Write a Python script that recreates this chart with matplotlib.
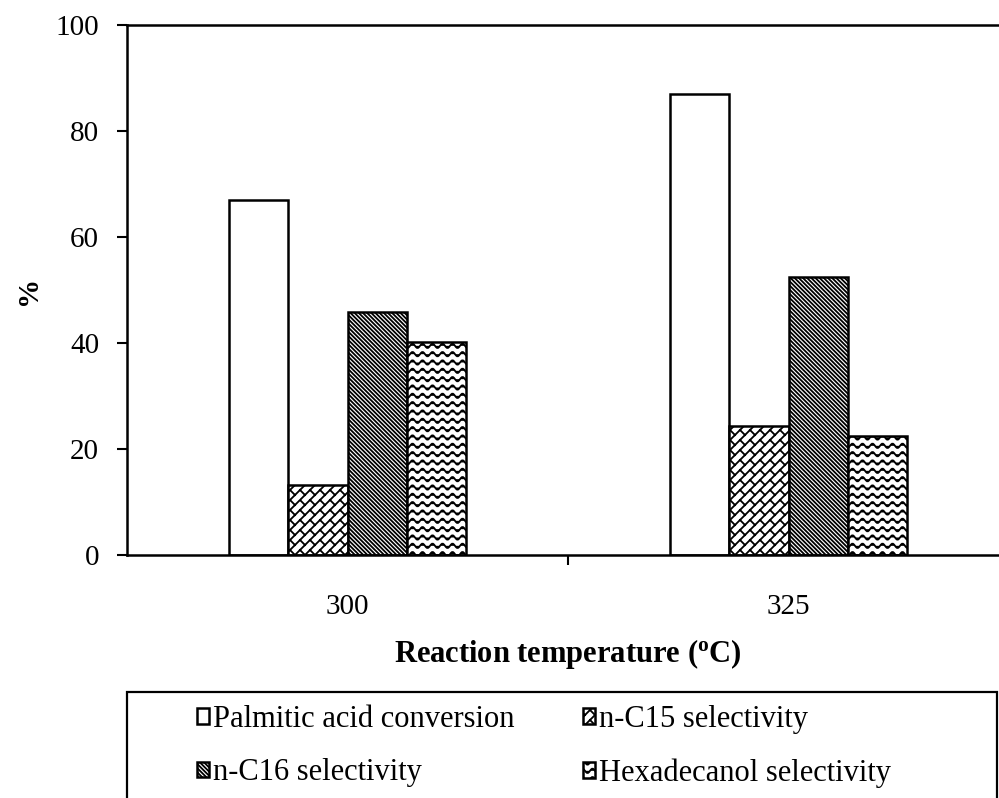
import matplotlib
matplotlib.use("Agg")
import matplotlib.pyplot as plt
import matplotlib.hatch as mhatch
from matplotlib.path import Path
from matplotlib.patches import Rectangle
import numpy as np
import warnings

warnings.filterwarnings("ignore")

plt.rcParams["font.family"] = ["Liberation Serif", "DejaVu Serif"]
plt.rcParams["mathtext.fontset"] = "custom"
plt.rcParams["mathtext.rm"] = "Liberation Serif"
plt.rcParams["mathtext.bf"] = "Liberation Serif:bold"
plt.rcParams["hatch.linewidth"] = 1.3

# data
temps = ["300", "325"]
series = ["Palmitic acid conversion", "n-C15 selectivity",
          "n-C16 selectivity", "Hexadecanol selectivity"]
conversion = [67, 87]
c15_sel = [13.3, 24.3]
c16_sel = [45.8, 52.4]
hexadecanol_sel = [40.2, 22.4]


# two extra hatch styles: wavy lines ("~") and diagonal bricks ("b")
class WaveHatch(mhatch.HatchPatternBase):
    def __init__(self, hatch, density):
        self.rows = hatch.count("~") * 6
        self.npts = 121
        self.num_vertices = self.rows * self.npts

    def set_vertices_and_codes(self, vertices, codes):
        xs = np.linspace(-0.1, 1.1, self.npts)
        for r in range(self.rows):
            y0 = (r + 0.5) / self.rows
            seg = slice(r * self.npts, (r + 1) * self.npts)
            vertices[seg, 0] = xs
            vertices[seg, 1] = y0 + 0.022 * np.sin(2 * np.pi * 10 * xs)
            codes[seg] = Path.LINETO
            codes[r * self.npts] = Path.MOVETO


class BrickHatch(mhatch.HatchPatternBase):
    def __init__(self, hatch, density):
        n = hatch.count("b") * 10
        self.n = n
        self.q = 5
        if n:
            self.lines = 2 * n + 1
            self.segs = 2 * n * (2 * self.q + 3)
        else:
            self.lines = self.segs = 0
        self.num_vertices = 2 * (self.lines + self.segs)

    def set_vertices_and_codes(self, vertices, codes):
        n, q = self.n, self.q
        L = 1.0 / q

        def xy(c, t):
            return (c + t) / 2, (t - c) / 2

        i = 0
        for k in range(-n, n + 1):
            c = k / n
            vertices[i] = xy(c, -0.3)
            vertices[i + 1] = xy(c, 2.3)
            codes[i], codes[i + 1] = Path.MOVETO, Path.LINETO
            i += 2
        for k in range(-n, n):
            c0, c1 = k / n, (k + 1) / n
            off = 0.5 * (k % 2)
            for j in range(-1, 2 * q + 2):
                t = (j + off) * L
                vertices[i] = xy(c0, t)
                vertices[i + 1] = xy(c1, t)
                codes[i], codes[i + 1] = Path.MOVETO, Path.LINETO
                i += 2


mhatch._hatch_types.extend([WaveHatch, BrickHatch])

values = [conversion, c15_sel, c16_sel, hexadecanol_sel]
hatches = ["", "b", "\\" * 8, "~~"]

fig = plt.figure(figsize=(9.99, 7.98), dpi=100)
ax = fig.add_axes([127 / 999, 1 - 555 / 798, 882 / 999, 530 / 798])

x = np.arange(len(temps))
w = 0.134
bars = []
for i, (vals, h) in enumerate(zip(values, hatches)):
    b = ax.bar(x + (i - 1.5) * w, vals, w, color="white", edgecolor="black",
               linewidth=1.8, hatch=h, label=series[i])
    bars.append(b)

ax.set_xlim(-0.5, 1.5)
ax.set_ylim(0, 100)
ax.set_yticks(np.arange(0, 101, 20))
ax.set_xticks(x)
ax.set_xticklabels(temps)
ax.set_xticks([0.5], minor=True)
ax.tick_params(axis="x", which="major", length=0, labelsize=21, pad=28)
ax.tick_params(axis="x", which="minor", length=7, width=1.5, direction="out")
ax.tick_params(axis="y", length=7, width=1.5, labelsize=21, pad=13)
ax.spines["right"].set_visible(False)
for s in ["left", "top", "bottom"]:
    ax.spines[s].set_linewidth(1.8)

ax.set_xlabel(r"Reaction temperature ($\mathbf{^o}$C)", fontsize=22,
              fontweight="bold", labelpad=12)
ax.set_ylabel("%", fontsize=21, fontweight="bold", labelpad=10)

# legend box runs off the bottom of the picture
fig.patches.append(Rectangle((127 / 999, -0.05), 870 / 999, 1 - 692 / 798 + 0.05,
                             transform=fig.transFigure, fill=False,
                             edgecolor="black", linewidth=1.6))
order = [0, 2, 1, 3]
leg = fig.legend(handles=[bars[i] for i in order],
                 labels=[series[i] for i in order],
                 loc="upper left", bbox_to_anchor=(197 / 999, 1 - 705 / 798),
                 ncol=2, fontsize=22, frameon=False,
                 handlelength=0.4, handleheight=0.4, handletextpad=0.12,
                 borderpad=0, columnspacing=2.25, labelspacing=0.8,
                 borderaxespad=0)

fig.savefig("out.png", dpi=100)
